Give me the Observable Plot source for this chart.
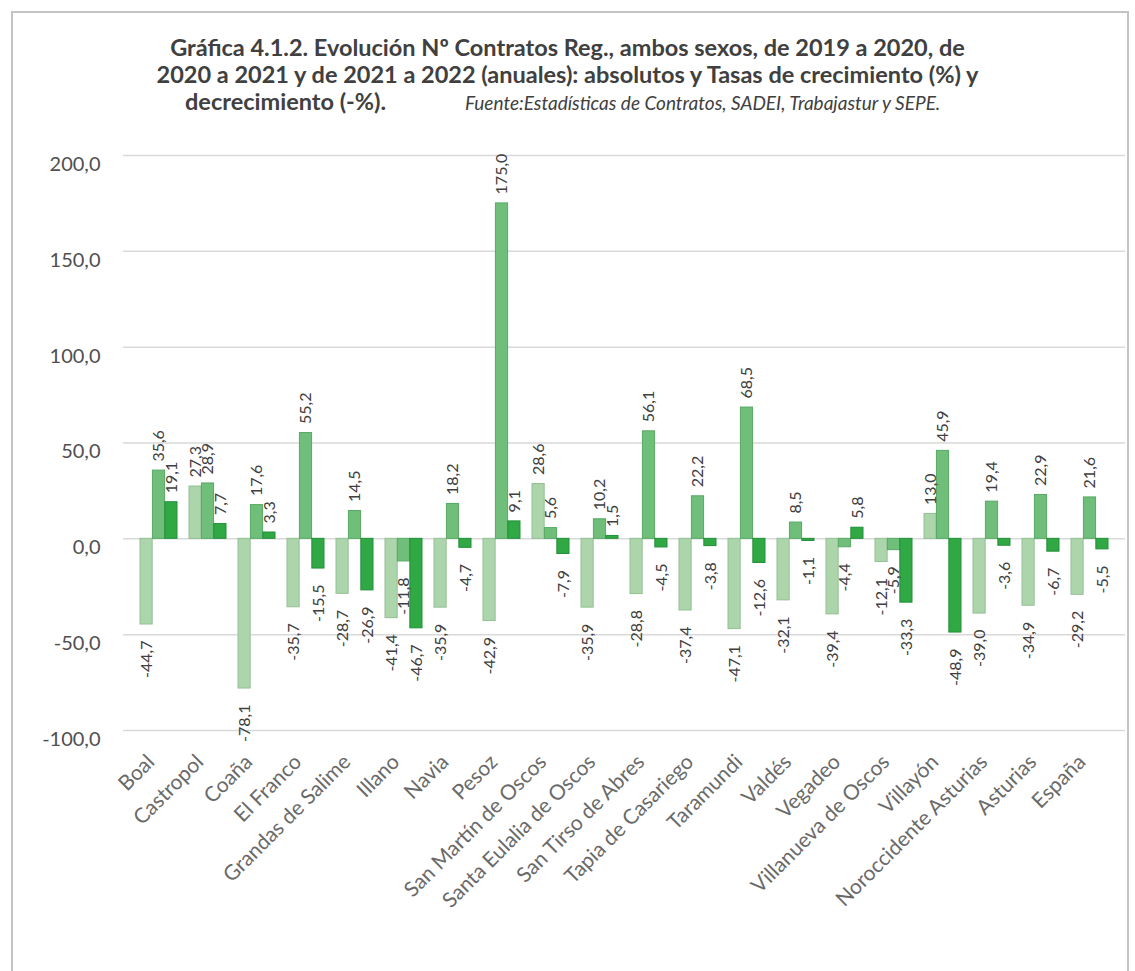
<!DOCTYPE html>
<html>
<head>
<meta charset="utf-8">
<script src="https://cdn.jsdelivr.net/npm/d3@7"></script>
<script src="https://cdn.jsdelivr.net/npm/@observablehq/plot@0.6"></script>
<style>
  html, body { margin: 0; padding: 0; background: #ffffff; }
  body { width: 1135px; height: 971px; position: relative; overflow: hidden; font-family: Lato, "Open Sans", sans-serif; }
  #frame { position: absolute; left: 11px; top: 11px; width: 1114px; height: 980px; border: 2px solid #c4c4c4; pointer-events: none; }
  #header { position: relative; height: 120px; width: 1135px; }
  .tl { position: absolute; left: 0; width: 1135px; text-align: center; font-weight: 700; font-size: 23.5px; line-height: 25px; color: #404040; white-space: nowrap; }
  .ab { position: absolute; white-space: nowrap; color: #404040; line-height: 25px; }
  #l3a { left: 185px; top: 89px; font-weight: 700; font-size: 23.5px; }
  #src { left: 465px; top: 90px; font-style: italic; font-weight: 400; font-size: 19px; }
  #chart { position: relative; }
</style>
</head>
<body>
<div id="header">
  <div class="tl" style="top:35px">Gráfica 4.1.2. Evolución Nº Contratos Reg., ambos sexos, de 2019 a 2020, de</div>
  <div class="tl" style="top:62px">2020 a 2021 y de 2021 a 2022 (anuales): absolutos y Tasas de crecimiento (%) y</div>
  <div class="ab" id="l3a">decrecimiento (-%).</div>
  <div class="ab" id="src">Fuente:Estadísticas de Contratos, SADEI, Trabajastur y SEPE.</div>
</div>
<div id="chart"></div>
<div id="frame"></div>
<script>
const categories = ["Boal", "Castropol", "Coaña", "El Franco", "Grandas de Salime", "Illano", "Navia", "Pesoz", "San Martín de Oscos", "Santa Eulalia de Oscos", "San Tirso de Abres", "Tapia de Casariego", "Taramundi", "Valdés", "Vegadeo", "Villanueva de Oscos", "Villayón", "Noroccidente Asturias", "Asturias", "España"];
const series = ["2019-2020", "2020-2021", "2021-2022"];
const v2019_2020 = [-44.7, 27.3, -78.1, -35.7, -28.7, -41.4, -35.9, -42.9, 28.6, -35.9, -28.8, -37.4, -47.1, -32.1, -39.4, -12.1, 13.0, -39.0, -34.9, -29.2];
const v2020_2021 = [35.6, 28.9, 17.6, 55.2, 14.5, -11.8, 18.2, 175.0, 5.6, 10.2, 56.1, 22.2, 68.5, 8.5, -4.4, -5.9, 45.9, 19.4, 22.9, 21.6];
const v2021_2022 = [19.1, 7.7, 3.3, -15.5, -26.9, -46.7, -4.7, 9.1, -7.9, 1.5, -4.5, -3.8, -12.6, -1.1, 5.8, -33.3, -48.9, -3.6, -6.7, -5.5];
const yTicks = [-100, -50, 0, 50, 100, 150, 200];

const valuesBySeries = [v2019_2020, v2020_2021, v2021_2022];
const data = [];
series.forEach((s, i) => categories.forEach((c, j) => data.push({cat: c, series: s, si: i, v: valuesBySeries[i][j]})));

const fills = ["#acd5ac", "#6fbf7a", "#30a844"];
const strokes = ["#93bf93", "#58a864", "#22903a"];
const fmt = d => d.toFixed(1).replace(".", ",");

const W = 1135, H = 851, ML = 123, MR = 10, MT = 35, MB = 241;
const PI = 0.25, PO = 0.209;
const step = (W - ML - MR) / (categories.length - PI + 2 * PO);
const bw = step * (1 - PI);
const barW = bw / 3;

const marks = [
  Plot.ruleY(yTicks, {stroke: "#d9d9d9", strokeWidth: 1.5}),
  Plot.axisY({ticks: yTicks, tickSize: 0, tickPadding: 23, tickFormat: fmt, fontSize: 20, fill: "#505050", dy: 9}),
  Plot.axisX({tickRotate: -45, tickSize: 0, tickPadding: 28, dx: -8, fontSize: 21, fill: "#6a6a6a"})
];
series.forEach((s, i) => {
  const d = data.filter(r => r.si === i);
  marks.push(Plot.barY(d, {x: "cat", y: "v", fill: fills[i], stroke: strokes[i], strokeWidth: 1,
    insetLeft: i * barW, insetRight: (2 - i) * barW}));
});
series.forEach((s, i) => {
  const d = data.filter(r => r.si === i);
  const dx = (i - 1) * barW;
  marks.push(Plot.text(d.filter(r => r.v >= 0), {x: "cat", y: "v", text: r => fmt(r.v), rotate: -90, textAnchor: "start", dx, dy: -9, fontSize: 16, fill: "#404040"}));
  marks.push(Plot.text(d.filter(r => r.v < 0), {x: "cat", y: "v", text: r => fmt(r.v), rotate: -90, textAnchor: "end", dx, dy: 16, fontSize: 16, fill: "#404040"}));
});

const chart = Plot.plot({
  width: W, height: H,
  marginLeft: ML, marginRight: MR, marginTop: MT, marginBottom: MB,
  style: {fontFamily: "Lato, 'Open Sans', sans-serif", background: "transparent"},
  x: {domain: categories, paddingInner: PI, paddingOuter: PO, label: null, axis: null},
  y: {domain: [-100, 200], label: null, axis: null},
  marks
});
document.getElementById("chart").appendChild(chart);
</script>
</body>
</html>
